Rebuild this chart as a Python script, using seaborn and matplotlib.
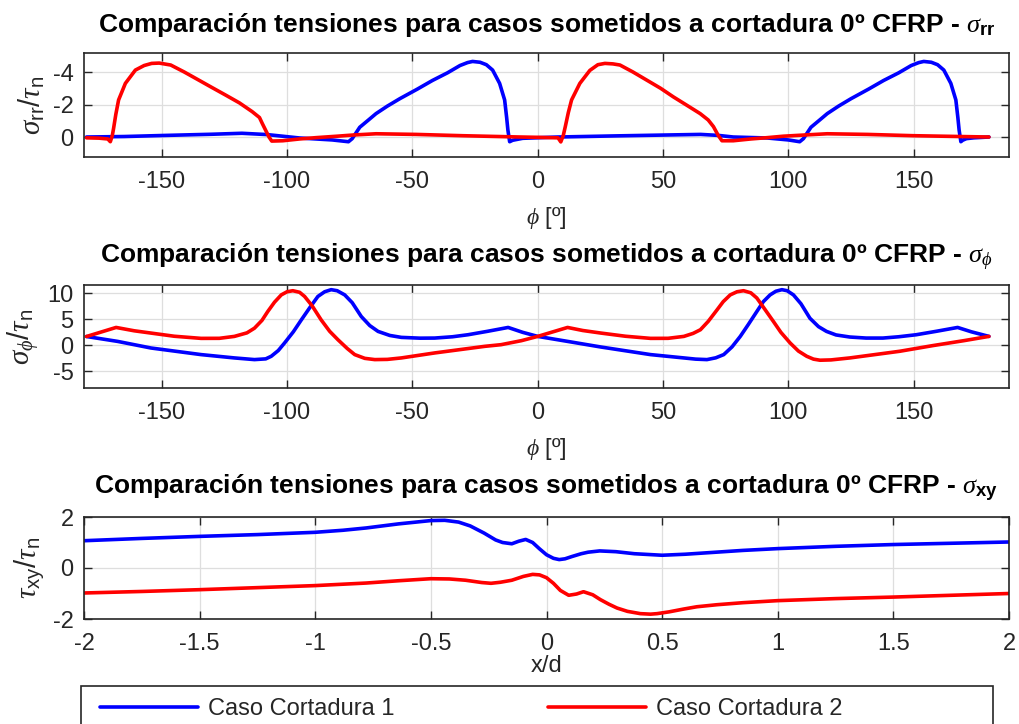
import numpy as np
import pandas as pd
import seaborn as sns
import matplotlib
matplotlib.use("Agg")
import matplotlib.pyplot as plt
from matplotlib.patches import Rectangle
from matplotlib.lines import Line2D

# ---------------- data ----------------
series_names = ["Caso Cortadura 1", "Caso Cortadura 2"]
series_colors = ["#0000FF", "#FF0000"]

# Panel 1: sigma_rr / tau_n vs phi
rr_phi_c1 = [-180, -165, -148, -130, -118, -108, -95, -82, -75.5, -74, -71, -67.5, -64.5, -60, -55, -48, -42,
             -36, -31, -28, -26, -23, -20.5, -18, -15.2, -13.2, -12.4, -11.9, -11.2, -10, -6, 8, 31.5, 50, 65,
             72, 78, 91.5, 100, 104.5, 106, 109, 112.5, 115.5, 120, 125, 132, 138, 144, 149, 152, 154, 157,
             159.5, 162, 164.8, 166.8, 167.6, 168.1, 168.8, 169.5, 171, 174, 180]
rr_c1 = [0.0, -0.03, -0.1, -0.17, -0.23, -0.15, 0.06, 0.18, 0.29, 0.1, -0.6, -1.05, -1.44, -1.9, -2.36, -2.95,
         -3.48, -3.95, -4.4, -4.58, -4.65, -4.6, -4.45, -4.12, -3.3, -2.28, -1.2, -0.43, 0.29, 0.2, 0.08, 0.0,
         -0.07, -0.12, -0.16, -0.1, 0.0, 0.06, 0.18, 0.29, 0.1, -0.6, -1.05, -1.44, -1.9, -2.36, -2.95, -3.48,
         -3.95, -4.4, -4.58, -4.65, -4.6, -4.45, -4.12, -3.3, -2.28, -1.2, -0.43, 0.29, 0.2, 0.1, 0.05, 0.0]

rr_phi_c2 = [-180, -175, -171.5, -170.5, -169.7, -169.2, -168.3, -167.2, -164.5, -160.5, -157, -154, -151,
             -146.4, -141, -135.2, -130, -124.5, -119, -113.9, -111, -109.9, -107.2, -106.1, -101.7, -95, -88.5,
             -80, -73.9, -64.5, -48.5, -30, -7, 0, 8.1, 9.2, 10.2, 11, 12.2, 13.5, 16.8, 20.8, 24, 26.8, 30,
             32.8, 38, 43.5, 49, 54.1, 59, 64.8, 68, 70.1, 72, 73.5, 78, 85, 91.5, 98, 106, 115.5, 131.5, 150,
             180]
rr_c2 = [0.05, 0.07, 0.12, 0.29, -0.1, -0.53, -1.4, -2.28, -3.3, -4.12, -4.4, -4.53, -4.55, -4.43, -4.0, -3.5,
         -3.05, -2.58, -2.1, -1.56, -1.2, -0.84, 0.0, 0.25, 0.23, 0.12, 0.04, -0.05, -0.12, -0.2, -0.16, -0.08,
         0.0, 0.02, 0.05, 0.3, -0.1, -0.64, -1.5, -2.28, -3.3, -4.1, -4.45, -4.53, -4.5, -4.43, -4.0, -3.5,
         -3.0, -2.47, -2.0, -1.44, -1.05, -0.64, -0.1, 0.23, 0.23, 0.12, 0.04, -0.05, -0.12, -0.2, -0.16,
         -0.08, 0.0]

# Panel 2: sigma_phi / tau_n vs phi
ph_phi_c1 = [-180, -167.6, -154.3, -134.3, -121, -113, -108.5, -106.3, -103.5, -101, -97.5, -94.3, -91, -87.7,
             -85, -82.4, -80, -77, -74, -70.4, -67, -63.7, -59, -54.4, -47, -41.1, -34, -27.8, -20, -11.8, -6,
             0, 11.9, 25.2, 45, 58.3, 63, 67.5, 71, 74.2, 77.5, 80.8, 84, 87.4, 90, 92.7, 95, 97.4, 99.5, 102,
             105, 108.6, 112, 115.2, 119, 124.5, 131, 137.7, 144, 151, 159, 167.5, 173, 180]
ph_c1 = [1.7, 0.76, -0.51, -1.78, -2.42, -2.74, -2.6, -2.1, -1.0, 0.45, 2.6, 4.9, 7.2, 9.4, 10.3, 10.7, 10.5,
         9.7, 8.2, 5.55, 3.8, 2.68, 1.9, 1.53, 1.38, 1.4, 1.65, 2.04, 2.7, 3.44, 2.5, 1.72, 0.76, -0.32, -1.78,
         -2.42, -2.65, -2.74, -2.4, -1.78, -0.3, 1.72, 4.0, 6.5, 8.4, 9.7, 10.4, 10.7, 10.5, 9.7, 8.0, 5.2, 3.6,
         2.68, 2.0, 1.6, 1.4, 1.4, 1.65, 2.04, 2.7, 3.44, 2.6, 1.72]

ph_phi_c2 = [-180, -168.2, -161, -154.3, -145, -134.3, -127, -121, -116, -113, -110, -107.7, -105, -102.3, -100,
             -97.7, -95, -93, -90, -86.4, -83, -79.7, -76, -73, -69, -65, -60, -54.4, -41.1, -21.1, -14.6, -6.5,
             0, 11.9, 18, 25.2, 35, 45, 52, 58.3, 62, 64.9, 68, 71.5, 74, 76.8, 79.5, 82.1, 85, 87.4, 90.5, 94,
             97, 100.7, 104, 107.3, 110, 112.6, 117, 124.5, 144.4, 157.6, 170, 180]
ph_c2 = [1.7, 3.44, 2.8, 2.36, 1.75, 1.34, 1.35, 1.72, 2.4, 3.3, 4.8, 6.5, 8.3, 9.7, 10.3, 10.5, 10.2, 9.4, 7.6,
         4.9, 2.7, 1.08, -0.6, -1.78, -2.5, -2.74, -2.7, -2.42, -1.46, -0.19, 0.13, 0.9, 1.72, 3.44, 2.85, 2.36,
         1.75, 1.34, 1.35, 1.72, 2.3, 3.0, 4.6, 6.8, 8.4, 9.7, 10.3, 10.5, 10.1, 9.1, 7.0, 4.6, 2.5, 0.45, -1.1,
         -2.1, -2.65, -2.86, -2.8, -2.42, -1.14, -0.05, 0.9, 1.72]

# Panel 3: tau_xy / tau_n vs x/d
xy_x_c1 = [-2, -1.75, -1.5, -1.25, -1.0, -0.88, -0.78, -0.64, -0.5, -0.44, -0.38, -0.33, -0.27, -0.22, -0.19,
           -0.15, -0.12, -0.09, -0.06, -0.03, 0.0, 0.03, 0.055, 0.08, 0.11, 0.15, 0.18, 0.23, 0.3, 0.38, 0.5,
           0.6, 0.7, 0.85, 1.0, 1.25, 1.5, 1.75, 2.0]
xy_c1 = [1.07, 1.16, 1.24, 1.31, 1.4, 1.48, 1.57, 1.73, 1.86, 1.87, 1.8, 1.65, 1.37, 1.1, 1.0, 0.95, 1.05, 1.12,
         1.0, 0.75, 0.52, 0.38, 0.33, 0.36, 0.45, 0.56, 0.62, 0.67, 0.64, 0.56, 0.5, 0.54, 0.6, 0.69, 0.76,
         0.85, 0.92, 0.97, 1.02]

xy_x_c2 = [-2, -1.75, -1.5, -1.25, -1.0, -0.78, -0.64, -0.5, -0.42, -0.35, -0.28, -0.24, -0.2, -0.15, -0.1,
           -0.06, -0.03, 0.0, 0.03, 0.06, 0.096, 0.13, 0.16, 0.2, 0.233, 0.27, 0.305, 0.35, 0.406, 0.45, 0.478,
           0.53, 0.593, 0.65, 0.737, 0.85, 1.0, 1.25, 1.5, 1.75, 2.0]
xy_c2 = [-0.98, -0.92, -0.85, -0.77, -0.69, -0.59, -0.5, -0.42, -0.43, -0.48, -0.57, -0.6, -0.56, -0.48, -0.33,
         -0.25, -0.27, -0.38, -0.6, -0.88, -1.07, -1.02, -0.93, -1.05, -1.24, -1.42, -1.57, -1.7, -1.79, -1.81,
         -1.79, -1.72, -1.61, -1.52, -1.44, -1.36, -1.28, -1.2, -1.14, -1.07, -1.0]

phi_ticks = [-150, -100, -50, 0, 50, 100, 150]
phi_ticklabels = ["-150", "-100", "-50", "0", "50", "100", "150"]
rr_ticks = [-4, -2, 0]
rr_ticklabels = ["-4", "-2", "0"]
ph_ticks = [-5, 0, 5, 10]
ph_ticklabels = ["-5", "0", "5", "10"]
xd_ticks = [-2, -1.5, -1, -0.5, 0, 0.5, 1, 1.5, 2]
xd_ticklabels = ["-2", "-1.5", "-1", "-0.5", "0", "0.5", "1", "1.5", "2"]
xy_ticks = [-2, 0, 2]
xy_ticklabels = ["-2", "0", "2"]

title_base = "Comparación tensiones para casos sometidos a cortadura 0º CFRP - "
titles = [title_base + r"$\sigma_{\mathbf{rr}}$",
          title_base + r"$\sigma_{\phi}$",
          title_base + r"$\sigma_{\mathbf{xy}}$"]
ylabels = [r"$\sigma_{\mathrm{rr}}/\tau_{\mathrm{n}}$",
           r"$\sigma_{\phi}/\tau_{\mathrm{n}}$",
           r"$\tau_{\mathrm{xy}}/\tau_{\mathrm{n}}$"]
xlabels = [r"$\phi$ [º]", r"$\phi$ [º]", "x/d"]

# ---------------- style ----------------
sns.set_theme(style="white")
plt.rcParams["font.family"] = ["Liberation Sans", "DejaVu Sans"]
plt.rcParams["axes.unicode_minus"] = False
plt.rcParams["mathtext.fontset"] = "custom"
plt.rcParams["mathtext.rm"] = "Liberation Sans"
plt.rcParams["mathtext.it"] = "Liberation Serif:italic"
plt.rcParams["mathtext.bf"] = "Liberation Sans:bold"
plt.rcParams["mathtext.sf"] = "Liberation Sans"

DARK = "#262626"
GRID = "#dedede"
TICK_FS = 17
TITLE_FS = 19
YLAB_FS = 21

def long_df(xs1, ys1, xs2, ys2):
    d1 = pd.DataFrame({"x": xs1, "y": ys1, "caso": series_names[0]})
    d2 = pd.DataFrame({"x": xs2, "y": ys2, "caso": series_names[1]})
    return pd.concat([d1, d2], ignore_index=True)

fig = plt.figure(figsize=(10.19, 7.24), dpi=100)
W, H = 1019, 724
ax1 = fig.add_axes([84 / W, 1 - 157 / H, 925 / W, 104 / H])
ax2 = fig.add_axes([84 / W, 1 - 388 / H, 925 / W, 103 / H])
ax3 = fig.add_axes([84 / W, 1 - 619 / H, 925 / W, 102 / H])

dfs = [long_df(rr_phi_c1, rr_c1, rr_phi_c2, rr_c2),
       long_df(ph_phi_c1, ph_c1, ph_phi_c2, ph_c2),
       long_df(xy_x_c1, xy_c1, xy_x_c2, xy_c2)]

palette = dict(zip(series_names, series_colors))
for ax, df in zip([ax1, ax2, ax3], dfs):
    sns.lineplot(data=df, x="x", y="y", hue="caso", palette=palette, sort=False,
                 estimator=None, legend=False, linewidth=2.6, ax=ax)

ax1.set_xlim(-181, 188)
ax1.set_ylim(1.23, -5.17)
ax1.set_xticks(phi_ticks, phi_ticklabels)
ax1.set_yticks(rr_ticks, rr_ticklabels)

ax2.set_xlim(-181, 188)
ax2.set_ylim(-8.2, 11.6)
ax2.set_xticks(phi_ticks, phi_ticklabels)
ax2.set_yticks(ph_ticks, ph_ticklabels)

ax3.set_xlim(-2, 2)
ax3.set_ylim(-2, 2)
ax3.set_xticks(xd_ticks, xd_ticklabels)
ax3.set_yticks(xy_ticks, xy_ticklabels)

title_pads = [15, 15.5, 16]
for i, ax in enumerate([ax1, ax2, ax3]):
    ax.grid(True, color=GRID, linewidth=0.9)
    ax.set_axisbelow(True)
    for s in ax.spines.values():
        s.set_visible(True)
        s.set_color(DARK)
        s.set_linewidth(1.2)
    ax.tick_params(direction="in", length=6, width=1.0, colors=DARK, labelsize=TICK_FS,
                   top=True, right=True, bottom=True, left=True)
    ax.tick_params(axis="x", pad=10)
    ax.tick_params(axis="y", pad=7.5)
    ax.set_title(titles[i], fontsize=TITLE_FS, fontweight="bold", color="black", pad=title_pads[i])
    ax.set_ylabel(ylabels[i], fontsize=YLAB_FS, color=DARK, labelpad=4)
    ax.set_xlabel(xlabels[i], fontsize=TICK_FS, color=DARK, labelpad=9 if i < 2 else 0)

# Legend
handles = [Line2D([], [], color=c, linewidth=2.6) for c in series_colors]
leg = fig.legend(handles, series_names, loc="center left", bbox_to_anchor=(100 / W, 1 - 709 / H),
                 ncol=2, frameon=False, fontsize=TICK_FS, handlelength=4.15, handletextpad=0.42,
                 columnspacing=6.5, borderpad=0, borderaxespad=0)
for t in leg.get_texts():
    t.set_color(DARK)
fig.patches.append(Rectangle((81 / W, -0.05), 912 / W, 0.05 + 1 - 686 / H, transform=fig.transFigure,
                             fill=False, edgecolor=DARK, linewidth=1.2))

fig.savefig("out.png", dpi=100)
